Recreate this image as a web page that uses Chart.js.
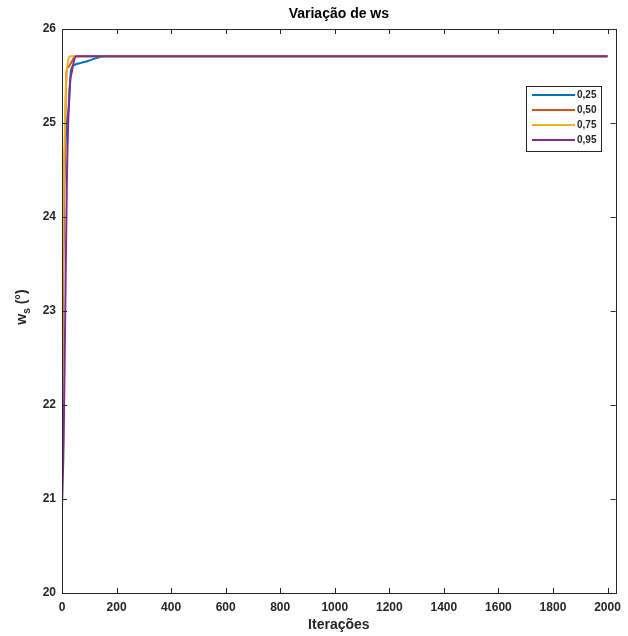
<!DOCTYPE html>
<html>
<head>
<meta charset="utf-8">
<script src="https://cdn.jsdelivr.net/npm/chart.js@4"></script>
<style>
  html, body { margin: 0; padding: 0; background: #ffffff; }
  #wrap { position: relative; width: 628px; height: 636px; }
</style>
</head>
<body>
<div id="wrap"><canvas id="c"></canvas></div>
<script>
// ---- data ----
const seriesLabels = ['0,25', '0,50', '0,75', '0,95'];
const xTickValues = [0, 200, 400, 600, 800, 1000, 1200, 1400, 1600, 1800, 2000];
const yTickValues = [20, 21, 22, 23, 24, 25, 26];

const iterBlue   = [0, 3, 8, 15, 25, 33, 47, 70, 96, 125, 157, 2000];
const valBlue    = [22.48, 23.4, 24.3, 24.9, 25.17, 25.56, 25.62, 25.64, 25.66, 25.69, 25.71, 25.71];

const iterOrange = [0, 3, 8, 14, 17, 25, 35, 50, 2000];
const valOrange  = [21.28, 22.9, 24.3, 25.3, 25.56, 25.6, 25.65, 25.71, 25.71];

const iterYellow = [0, 3, 8, 14, 21, 29, 2000];
const valYellow  = [22.48, 23.6, 24.6, 25.35, 25.64, 25.71, 25.71];

const iterPurple = [0, 6, 12, 18, 25, 30, 35, 43, 51, 2000];
const valPurple  = [20.9, 21.6, 23.0, 24.4, 25.2, 25.45, 25.53, 25.65, 25.71, 25.71];

const colors = ['#0072BD', '#D95319', '#EDB120', '#7E2F8E'];

function pts(xs, ys) { return xs.map((x, i) => ({ x: x, y: ys[i] })); }

const FONT = "'Liberation Sans', Arial, sans-serif";
const TXT = '#262626';

const decorPlugin = {
  id: 'decor',
  afterDraw(chart) {
    const ctx = chart.ctx;
    const { left, top, right, bottom } = chart.chartArea;
    const xs = chart.scales.x, ys = chart.scales.y;
    ctx.save();
    // box
    ctx.strokeStyle = TXT;
    ctx.lineWidth = 1;
    ctx.strokeRect(Math.round(left) + 0.5, Math.round(top) + 0.5,
                   Math.round(right - left), Math.round(bottom - top));
    // inward ticks
    const tl = 5;
    ctx.beginPath();
    xTickValues.forEach(v => {
      const px = Math.round(xs.getPixelForValue(v)) + 0.5;
      ctx.moveTo(px, bottom); ctx.lineTo(px, bottom - tl);
      ctx.moveTo(px, top); ctx.lineTo(px, top + tl);
    });
    yTickValues.forEach(v => {
      const py = Math.round(ys.getPixelForValue(v)) + 0.5;
      ctx.moveTo(left, py); ctx.lineTo(left + tl, py);
      ctx.moveTo(right, py); ctx.lineTo(right - tl, py);
    });
    ctx.stroke();

    // title
    ctx.fillStyle = '#000';
    ctx.font = 'bold 14px ' + FONT;
    ctx.textAlign = 'center';
    ctx.textBaseline = 'middle';
    ctx.fillText('Variação de ws', (left + right) / 2, 14);

    // x axis title
    ctx.fillStyle = TXT;
    ctx.font = 'bold 14px ' + FONT;
    ctx.fillText('Iterações', (left + right) / 2, 625);

    // y axis title with subscript
    ctx.save();
    ctx.translate(22, 307);
    ctx.rotate(-Math.PI / 2);
    ctx.textAlign = 'left';
    ctx.textBaseline = 'middle';
    const fBig = 'bold 14px ' + FONT, fSmall = 'bold 10px ' + FONT;
    ctx.font = fBig; const w1 = ctx.measureText('w').width;
    ctx.font = fSmall; const w2 = ctx.measureText('s').width;
    ctx.font = fBig; const w3 = ctx.measureText(' (°)').width;
    let sx = -(w1 + w2 + w3) / 2;
    ctx.font = fBig; ctx.fillText('w', sx, 0); sx += w1;
    ctx.font = fSmall; ctx.fillText('s', sx, 5); sx += w2;
    ctx.font = fBig; ctx.fillText(' (°)', sx, 0);
    ctx.restore();

    // legend box
    const lx = 526, ly = 86, lw = 75, lh = 65;
    ctx.fillStyle = '#ffffff';
    ctx.fillRect(lx, ly, lw, lh);
    ctx.strokeStyle = '#262626';
    ctx.lineWidth = 1;
    ctx.strokeRect(lx + 0.5, ly + 0.5, lw, lh);
    chart.data.datasets.forEach((ds, i) => {
      const yy = 95 + i * 15;
      ctx.strokeStyle = ds.borderColor;
      ctx.lineWidth = 2;
      ctx.beginPath();
      ctx.moveTo(532, yy); ctx.lineTo(575, yy);
      ctx.stroke();
      ctx.fillStyle = TXT;
      ctx.font = 'bold 10px ' + FONT;
      ctx.textAlign = 'left';
      ctx.textBaseline = 'middle';
      ctx.fillText(ds.label, 577, yy + 0.5);
    });
    ctx.restore();
  }
};

const allIters = [iterBlue, iterOrange, iterYellow, iterPurple];
const allVals = [valBlue, valOrange, valYellow, valPurple];

new Chart(document.getElementById('c'), {
  type: 'line',
  data: {
    datasets: seriesLabels.map((lab, i) => ({
      label: lab,
      data: pts(allIters[i], allVals[i]),
      borderColor: colors[i],
      backgroundColor: colors[i],
      borderWidth: 2,
      pointRadius: 0,
      fill: false,
      cubicInterpolationMode: 'monotone',
      order: 4 - i
    }))
  },
  options: {
    responsive: true,
    maintainAspectRatio: false,
    animation: false,
    layout: { padding: { top: 29, right: 9, left: 0, bottom: 0 } },
    plugins: { legend: { display: false }, tooltip: { enabled: false }, title: { display: false } },
    scales: {
      x: {
        type: 'linear',
        min: 0, max: 2030,
        grid: { display: false, drawTicks: false },
        border: { display: false },
        afterBuildTicks: (s) => { s.ticks = xTickValues.map(v => ({ value: v })); },
        ticks: {
          padding: 7,
          maxRotation: 0,
          autoSkip: false,
          color: TXT,
          font: { family: FONT, weight: 'bold', size: 12 },
          callback: (v) => String(v)
        },
        afterFit: (s) => { s.height = 43; }
      },
      y: {
        type: 'linear',
        min: 20, max: 26,
        grid: { display: false, drawTicks: false },
        border: { display: false },
        afterBuildTicks: (s) => { s.ticks = yTickValues.map(v => ({ value: v })); },
        ticks: {
          padding: 6,
          color: TXT,
          font: { family: FONT, weight: 'bold', size: 12 },
          callback: (v) => String(v)
        },
        afterFit: (s) => { s.width = 62; }
      }
    }
  },
  plugins: [decorPlugin]
});
</script>
</body>
</html>
